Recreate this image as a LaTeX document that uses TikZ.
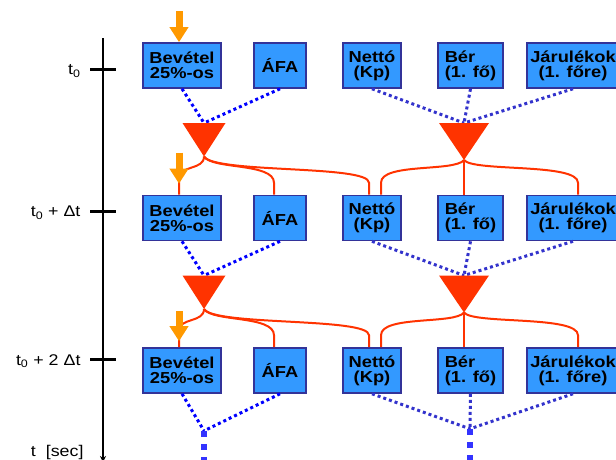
\documentclass[tikz,border=0pt]{standalone}
\usepackage{fontspec}
\setmainfont[FakeStretch=1.15]{Liberation Sans}
\usetikzlibrary{arrows.meta,calc,positioning}
\definecolor{boxblue}{HTML}{3399FF}
\definecolor{boxedge}{HTML}{333399}
\definecolor{sumred}{HTML}{FF3300}
\definecolor{inorange}{HTML}{FF9900}
\definecolor{dotblue}{HTML}{0000FF}
\definecolor{dotblueb}{HTML}{3333CC}
\definecolor{contblue}{HTML}{3333FF}
\tikzset{
  cell/.style={draw=boxedge, line width=1.6pt, fill=boxblue, minimum height=45pt,
               inner sep=0pt, align=center, font=\bfseries\fontsize{15.9}{15}\selectfont},
  link/.style={draw=dotblue, line width=3pt, dash pattern=on 3pt off 3pt},
  cont/.style={draw=contblue, line width=6.5pt, dash pattern=on 6pt off 7pt},
  flow/.style={draw=sumred, line width=2pt},
  feed/.style={draw=inorange, line width=7pt, -{Triangle[width=18pt,length=15pt]}},
  timelbl/.style={anchor=east, font=\fontsize{15.5}{18}\selectfont}
}
\begin{document}
\begin{tikzpicture}[x=1pt,y=-1pt]
  \useasboundingbox (0,0) rectangle (616,459);
  % time axis
  \draw[line width=2.5pt,-{Stealth[length=6pt,width=6pt]}] (103,38) coordinate (ttop) -- (103,462) coordinate (tend);
  \foreach \i/\y/\lbl in {0/69/t\textsubscript{0}, 1/211/t\textsubscript{0} + Δt, 2/359/t\textsubscript{0} + 2 Δt}{
    \draw[line width=3pt] (90,\y) coordinate (tl\i) -- (116,\y) coordinate (tr\i);
    \node[timelbl] (tk\i) at (84,\y+2) {\lbl};
  }
  \node[timelbl] (tsec) at (87,452) {t\ \ [sec]};

  % boxes
  \foreach \r/\y in {1/65.5,2/218,3/370.5}{
    \node[cell, minimum width=78pt] (bev\r) at (182,\y) {Bevétel\\25\%-os};
    \node[cell, minimum width=52pt] (afa\r) at (280,\y) {ÁFA};
    \node[cell, minimum width=58pt] (net\r) at (372,\y) {Nettó\\(Kp)};
    \node[cell, minimum width=65pt, align=left] (ber\r) at (470.5,\y) {Bér\\(1. fő)};
    \node[cell, minimum width=92pt] (jar\r) at (573,\y) {Járulékok\\(1. főre)};
  }

  % sums and flows to the next step
  \foreach \r/\n in {1/2,2/3}{
    \coordinate (sl\r) at ($(bev\r.center)+(22,57.5)$);
    \coordinate (sr\r) at ($(ber\r.center)+(-6.5,57.5)$);
    \draw[link] (bev\r.south) -- (sl\r);
    \draw[link] (afa\r.south) -- (sl\r);
    \draw[link, dotblueb] (net\r.south) -- (sr\r);
    \draw[link, dotblueb] (ber\r.south) -- (sr\r);
    \draw[link, dotblueb] (jar\r.south) -- (sr\r);
    \fill[sumred] ($(sl\r)+(-21.5,0)$) -- ($(sl\r)+(21.5,0)$) -- ($(sl\r)+(0,33.5)$) coordinate (ol\r) -- cycle;
    \fill[sumred] ($(sr\r)+(-25,0)$) -- ($(sr\r)+(25,0)$) -- ($(sr\r)+(0,37)$) coordinate (or\r) -- cycle;
    \draw[flow] (ol\r) .. controls ($(ol\r)+(0,14)$) and ($(bev\n.north)+(-3,-30)$) .. ($(bev\n.north)+(-3,-16)$) -- ($(bev\n.north)+(-3,0)$);
    \draw[flow] (ol\r) .. controls ($(ol\r)+(8,13)$) and ($(afa\n.north)+(-6,-32)$) .. ($(afa\n.north)+(-6,-12)$) -- ($(afa\n.north)+(-6,0)$);
    \draw[flow] (ol\r) .. controls ($(ol\r)+(10,17)$) and ($(net\n.north)+(-3,-30)$) .. ($(net\n.north)+(-3,-12)$) -- ($(net\n.north)+(-3,0)$);
    \draw[flow] (or\r) .. controls ($(or\r)+(-9,12)$) and ($(net\n.north)+(9,-32)$) .. ($(net\n.north)+(9,-12)$) -- ($(net\n.north)+(9,0)$);
    \draw[flow] (or\r) -- ($(ber\n.north)+(-6.5,0)$);
    \draw[flow] (or\r) .. controls ($(or\r)+(9,12)$) and ($(jar\n.north)+(5,-32)$) .. ($(jar\n.north)+(5,-12)$) -- ($(jar\n.north)+(5,0)$);
  }

  % inputs
  \coordinate (in1) at ($(bev1.north)+(-3,-31)$);
  \coordinate (in2) at ($(bev2.north)+(-3,-42)$);
  \coordinate (in3) at ($(bev3.north)+(-3,-36)$);
  \draw[feed] (in1) -- ($(bev1.north)+(-3,0)$);
  \draw[feed] (in2) -- ($(in2)+(0,31)$);
  \draw[feed] (in3) -- ($(in3)+(0,30)$);

  % last step continues
  \coordinate (el) at ($(bev3.south)+(22,37)$);
  \coordinate (er) at ($(ber3.south)+(-0.5,35)$);
  \draw[link] (bev3.south) -- (el);
  \draw[link] (afa3.south) -- (el);
  \draw[link, dotblueb] (net3.south) -- (er);
  \draw[link, dotblueb] (ber3.south) -- (er);
  \draw[link, dotblueb] (jar3.south) -- (er);
  \draw[cont] (el) -- (el |- tend);
  \draw[cont] (er) -- (er |- tend);
\end{tikzpicture}
\end{document}
